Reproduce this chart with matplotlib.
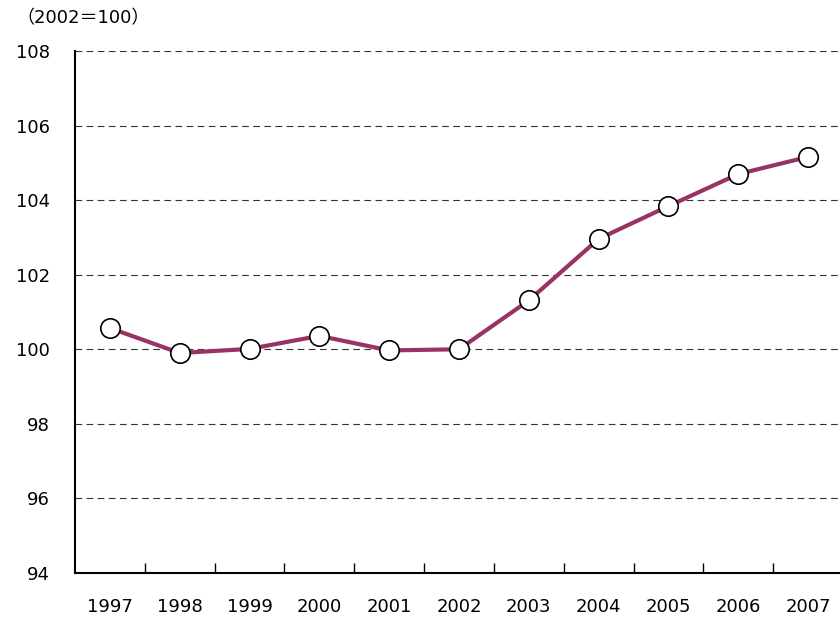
import matplotlib
matplotlib.use("Agg")
import matplotlib.pyplot as plt

plt.rcParams['font.family'] = ['DejaVu Sans', 'Noto Sans CJK JP']

years = ['1997', '1998', '1999', '2000', '2001', '2002', '2003', '2004', '2005', '2006', '2007']
values = [100.57, 99.90, 100.01, 100.36, 99.97, 100.0, 101.31, 102.96, 103.84, 104.70, 105.16]
yticks = [94, 96, 98, 100, 102, 104, 106, 108]
unit_label = '（2002＝100）'

fig = plt.figure(figsize=(8.4, 6.18), dpi=100)
ax = fig.add_axes([75/840, 1-573/618, (843-75)/840, (573-51)/618])

x = list(range(len(years)))
ax.plot(x, values, color='#993366', linewidth=3, marker='o', markersize=14,
        markerfacecolor='white', markeredgecolor='black', markeredgewidth=1.2,
        solid_capstyle='round', zorder=3, clip_on=False)

ax.set_xlim(-0.5, len(years) - 0.5)
ax.set_ylim(94, 108)
ax.set_yticks(yticks)
ax.set_yticklabels([str(v) for v in yticks], fontsize=13)
ax.tick_params(axis='y', length=0, pad=18)
for v in yticks[1:]:
    ax.axhline(v, color='#333333', linestyle=(0, (6, 4)), linewidth=0.8, zorder=1)

ax.set_xticks(x)
ax.set_xticklabels(years, fontsize=13)
ax.tick_params(axis='x', which='major', length=0, pad=18)
ax.set_xticks([i + 0.5 for i in x[:-1]], minor=True)
ax.tick_params(axis='x', which='minor', direction='in', length=7, width=1, color='black')

for s in ['top', 'right']:
    ax.spines[s].set_visible(False)
for s in ['left', 'bottom']:
    ax.spines[s].set_linewidth(1.5)
    ax.spines[s].set_color('black')

fig.text(16/840, 1-18/618, unit_label, fontsize=13, va='center', ha='left')

fig.savefig('out.png', dpi=100)
